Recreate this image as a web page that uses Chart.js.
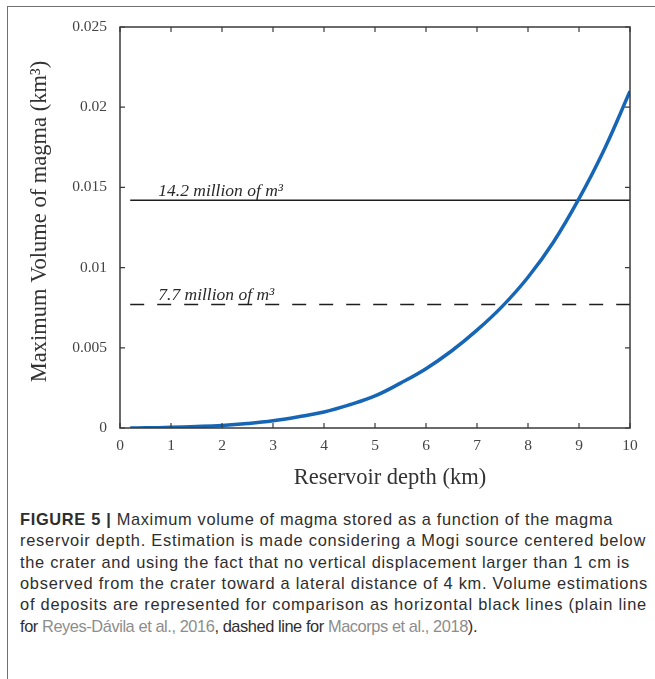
<!DOCTYPE html>
<html>
<head>
<meta charset="utf-8">
<script src="https://cdn.jsdelivr.net/npm/chart.js@4.4.0/dist/chart.umd.min.js"></script>
<style>
html, body { margin: 0; padding: 0; background: #fff; }
#page { position: relative; width: 655px; height: 679px; overflow: hidden; background: #fff; }
#frame { position: absolute; left: 7px; top: 6px; width: 700px; height: 700px;
  border-left: 1.5px solid #707070; border-top: 1.5px solid #707070; }
#chart { position: absolute; left: 0; top: 0; }
#caption { position: absolute; left: 20px; top: 509px; font-family: "Liberation Sans", Arial, sans-serif;
  font-size: 16.4px; line-height: 21.35px; color: #2e2e2e; white-space: nowrap; }
#caption div { display: block; }
#caption .ref { color: #8d8d8d; }
</style>
</head>
<body>
<div id="page">
  <div id="frame"></div>
  <canvas id="chart" width="655" height="500"></canvas>
  <div id="caption">
    <div><b>FIGURE 5 |</b> Maximum volume of magma stored as a function of the magma</div>
    <div>reservoir depth. Estimation is made considering a Mogi source centered below</div>
    <div>the crater and using the fact that no vertical displacement larger than 1 cm is</div>
    <div>observed from the crater toward a lateral distance of 4 km. Volume estimations</div>
    <div>of deposits are represented for comparison as horizontal black lines (plain line</div>
    <div>for <span class="ref">Reyes-Dávila et al., 2016</span>, dashed line for <span class="ref">Macorps et al., 2018</span>).</div>
  </div>
</div>
<script>
// reservoir depth (km) and max magma volume (km3)
const depth = [0.2, 0.5, 1, 1.5, 2, 2.5, 3, 3.5, 4, 4.5, 5, 5.5, 6, 6.5, 7, 7.5, 8, 8.5, 9, 9.5, 10];
const maxVolume = [0, 0.00001, 0.00004, 0.00009, 0.00016, 0.00028, 0.00045, 0.0007, 0.001, 0.00145,
  0.002, 0.0028, 0.0037, 0.0048, 0.0061, 0.0076, 0.0094, 0.0116, 0.0143, 0.0174, 0.021];

// deposit volume estimates (horizontal lines)
const depositNames = ['14.2 million of m³', '7.7 million of m³'];
const depositVolumes = [0.0142, 0.0077];
const depositRange = [0.2, 10];
const depositLabelDepth = 0.75;

const xTickLabels = ['0', '1', '2', '3', '4', '5', '6', '7', '8', '9', '10'];
const yTickLabels = ['0', '0.005', '0.01', '0.015', '0.02', '0.025'];

const xTitle = 'Reservoir depth (km)';
const yTitle = 'Maximum Volume of magma (km³)';

const boxPlugin = {
  id: 'boxPlugin',
  afterDatasetsDraw(chart) {
    const { ctx, chartArea: a, scales: { x, y } } = chart;
    ctx.save();
    ctx.strokeStyle = '#3a3a3a';
    ctx.lineWidth = 1.5;
    ctx.strokeRect(a.left, a.top, a.right - a.left, a.bottom - a.top);

    // inward ticks on all four sides
    ctx.lineWidth = 1.2;
    ctx.beginPath();
    x.ticks.forEach(t => {
      const px = x.getPixelForValue(t.value);
      ctx.moveTo(px, a.bottom); ctx.lineTo(px, a.bottom - 5);
      ctx.moveTo(px, a.top); ctx.lineTo(px, a.top + 5);
    });
    y.ticks.forEach(t => {
      const py = y.getPixelForValue(t.value);
      ctx.moveTo(a.left, py); ctx.lineTo(a.left + 5, py);
      ctx.moveTo(a.right, py); ctx.lineTo(a.right - 5, py);
    });
    ctx.stroke();

    // labels over the deposit lines
    ctx.font = 'italic 17.5px "Liberation Serif", serif';
    ctx.fillStyle = '#2a2a2a';
    ctx.textAlign = 'left';
    ctx.textBaseline = 'alphabetic';
    depositNames.forEach((name, i) => {
      ctx.fillText(name, x.getPixelForValue(depositLabelDepth), y.getPixelForValue(depositVolumes[i]) - 4);
    });

    // axis titles
    ctx.font = '22.5px "Liberation Serif", serif';
    ctx.fillStyle = '#333';
    ctx.textAlign = 'center';
    ctx.textBaseline = 'middle';
    ctx.fillText(xTitle, (a.left + a.right) / 2 + 15, 478);
    ctx.translate(40, (a.top + a.bottom) / 2 - 6);
    ctx.rotate(-Math.PI / 2);
    ctx.fillText(yTitle, 0, 0);
    ctx.restore();
  }
};

new Chart(document.getElementById('chart'), {
  type: 'line',
  data: {
    datasets: [
      {
        data: depth.map((d, i) => ({ x: d, y: maxVolume[i] })),
        borderColor: '#1766b5',
        borderWidth: 3.5,
        pointRadius: 0,
        tension: 0.4
      },
      {
        data: depositRange.map(d => ({ x: d, y: depositVolumes[0] })),
        borderColor: '#1e1e1e',
        borderWidth: 1.6,
        pointRadius: 0
      },
      {
        data: depositRange.map(d => ({ x: d, y: depositVolumes[1] })),
        borderColor: '#1e1e1e',
        borderWidth: 1.6,
        borderDash: [14, 13],
        pointRadius: 0
      }
    ]
  },
  options: {
    responsive: false,
    animation: false,
    devicePixelRatio: 1,
    layout: { padding: { left: 0, right: 25, top: 27, bottom: 0 } },
    plugins: { legend: { display: false }, tooltip: { enabled: false } },
    scales: {
      x: {
        type: 'linear',
        min: 0,
        max: 10,
        afterFit: s => { s.height = 72; },
        grid: { display: false, drawTicks: false },
        border: { display: false },
        ticks: {
          stepSize: 1,
          padding: 9,
          color: '#444',
          font: { family: '"Liberation Serif", serif', size: 15.5 },
          callback: (v, i) => xTickLabels[i]
        }
      },
      y: {
        min: 0,
        max: 0.025,
        afterFit: s => { s.width = 120; },
        grid: { display: false, drawTicks: false },
        border: { display: false },
        ticks: {
          stepSize: 0.005,
          padding: 13,
          color: '#444',
          font: { family: '"Liberation Serif", serif', size: 15.5 },
          callback: (v, i) => yTickLabels[i]
        }
      }
    }
  },
  plugins: [boxPlugin]
});

// stretch each caption line to the width it has in the figure
const captionWidths = [593, 626, 610, 628, 627, 457];
document.querySelectorAll('#caption div').forEach((line, i) => {
  line.style.display = 'inline-block';
  const w = line.getBoundingClientRect().width;
  const n = line.textContent.length;
  line.style.letterSpacing = ((captionWidths[i] - w) / n) + 'px';
  line.style.display = 'block';
});
</script>
</body>
</html>
